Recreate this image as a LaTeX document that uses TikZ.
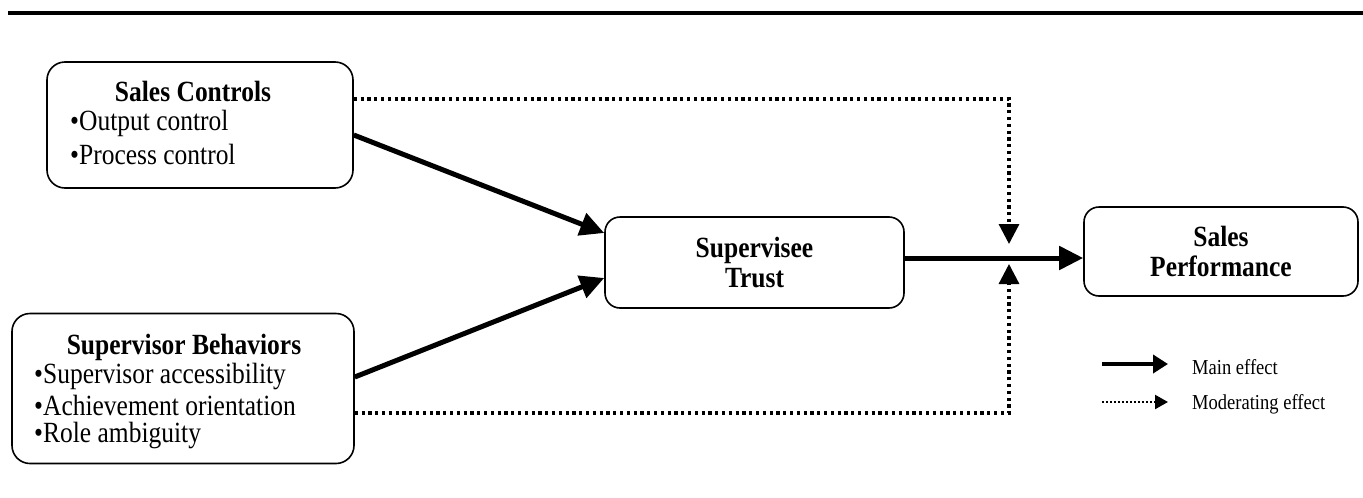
\documentclass[tikz,border=0pt]{standalone}
\usepackage{fontspec}
\setmainfont{Liberation Serif}[FakeStretch=0.87]
\usetikzlibrary{arrows.meta}
\usetikzlibrary{calc}

\tikzset{
  box/.style={draw, rounded corners=18pt, line width=1.6pt},
  boxhead/.style={font=\bfseries\fontsize{29.3}{30}\selectfont, inner sep=0pt},
  boxitem/.style={anchor=west, font=\fontsize{29.3}{30}\selectfont, inner sep=0pt},
  mainarrow/.style={line width=5pt, -{Triangle[length=24pt,width=23pt]}},
  modarrow/.style={line width=3.2pt, dash pattern=on 3.2pt off 3.6pt, -{Triangle[length=20pt,width=20pt]}},
  keytext/.style={anchor=west, font=\fontsize{21.3}{22}\selectfont, inner sep=0pt},
}

\begin{document}
\begin{tikzpicture}[x=1pt, y=-1pt]
    \useasboundingbox (0,0) rectangle (1363,498);
    \draw [line width=3.5pt] (8,13) -- (1363,13);

    % antecedents
    \node [box, minimum width=306pt, minimum height=126pt] (ctrl) at (200,125) {};
    \node [boxhead] (ctrlhead) at (193,91) {Sales Controls};
    \node [boxitem] (ctrlout) at (70,123) {\textbullet Output control};
    \node [boxitem] (ctrlproc) at (70,154) {\textbullet Process control};

    \node [box, minimum width=342pt, minimum height=150pt] (behav) at (183,388.5) {};
    \node [boxhead] (behavhead) at (184,347) {Supervisor Behaviors};
    \node [boxitem] (behavacc) at (34,376) {\textbullet Supervisor accessibility};
    \node [boxitem] (behavach) at (34,405) {\textbullet Achievement orientation};
    \node [boxitem] (behavrole) at (34,435) {\textbullet Role ambiguity};

    % mediator and outcome
    \node [box, rounded corners=15pt, minimum width=299pt, minimum height=91pt, align=center,
           font=\bfseries\fontsize{29.3}{30}\selectfont] (trust) at (754.5,262.5) {Supervisee\\Trust};
    \node [box, rounded corners=15pt, minimum width=274pt, minimum height=89pt, align=center,
           font=\bfseries\fontsize{29.3}{30}\selectfont] (perf) at (1221,251.5) {Sales\\Performance};

    % main effects
    \draw [mainarrow] ($(ctrl.east)+(0,10)$) -- ($(trust.west)+(0,-29.5)$);
    \draw [mainarrow] ($(behav.east)+(0,-11.5)$) -- ($(trust.west)+(0,15.5)$);
    \draw [mainarrow] ($(trust.east)+(0,-4.5)$) coordinate (tout) -- (tout -| perf.west);

    % moderating effects
    \coordinate (modtop) at (1009,244);
    \coordinate (modbot) at (1009,264);
    \draw [modarrow] ($(ctrl.east)+(0,-26)$) -| (modtop);
    \draw [modarrow] ($(behav.east)+(0,24.5)$) -| (modbot);

    % key
    \coordinate (keymainA) at (1102,364);
    \coordinate (keymainB) at (1168,364);
    \coordinate (keymodA) at (1102,402);
    \coordinate (keymodB) at (1168,402);
    \draw [line width=4pt, -{Triangle[length=15pt,width=18pt]}] (keymainA) -- (keymainB);
    \draw [line width=2.2pt, dash pattern=on 2pt off 2pt, -{Triangle[length=13pt,width=14pt]}] (keymodA) -- (keymodB);
    \node [keytext] (keymain) at (1192,367) {Main effect};
    \node [keytext] (keymod) at (1192,404) {Moderating effect};
\end{tikzpicture}
\end{document}
